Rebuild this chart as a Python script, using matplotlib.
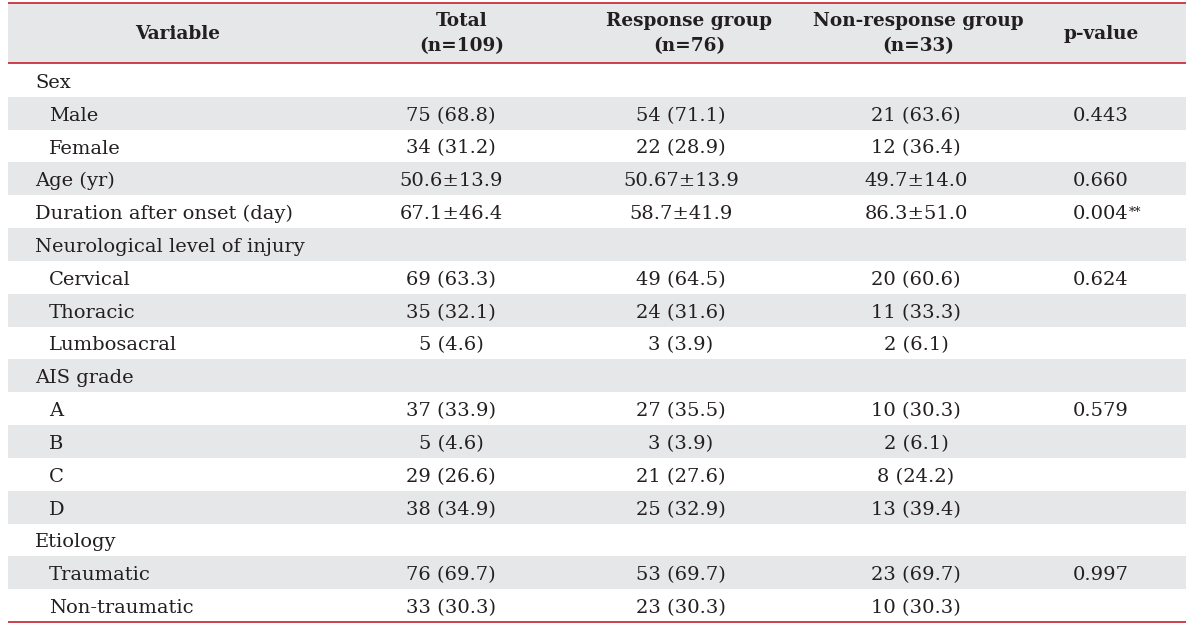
import matplotlib.pyplot as plt
from matplotlib.patches import Rectangle

# table content
headers = ["Variable", "Total\n(n=109)", "Response group\n(n=76)",
           "Non-response group\n(n=33)", "p-value"]

variables = ["Sex", "Male", "Female", "Age (yr)", "Duration after onset (day)",
             "Neurological level of injury", "Cervical", "Thoracic", "Lumbosacral",
             "AIS grade", "A", "B", "C", "D", "Etiology", "Traumatic", "Non-traumatic"]
indented = [False, True, True, False, False, False, True, True, True,
            False, True, True, True, True, False, True, True]

total = ["", "75 (68.8)", "34 (31.2)", "50.6\u00b113.9", "67.1\u00b146.4", "",
         "69 (63.3)", "35 (32.1)", "5 (4.6)", "", "37 (33.9)", "5 (4.6)",
         "29 (26.6)", "38 (34.9)", "", "76 (69.7)", "33 (30.3)"]
response = ["", "54 (71.1)", "22 (28.9)", "50.67\u00b113.9", "58.7\u00b141.9", "",
            "49 (64.5)", "24 (31.6)", "3 (3.9)", "", "27 (35.5)", "3 (3.9)",
            "21 (27.6)", "25 (32.9)", "", "53 (69.7)", "23 (30.3)"]
nonresponse = ["", "21 (63.6)", "12 (36.4)", "49.7\u00b114.0", "86.3\u00b151.0", "",
               "20 (60.6)", "11 (33.3)", "2 (6.1)", "", "10 (30.3)", "2 (6.1)",
               "8 (24.2)", "13 (39.4)", "", "23 (69.7)", "10 (30.3)"]
pvalue = ["", "0.443", "", "0.660", "0.004**", "", "0.624", "", "", "",
          "0.579", "", "", "", "", "0.997", ""]

# layout in pixels
W, H = 1200, 628
x0, x1 = 8, 1186
head_top, head_bot = 3, 63
row_h = (622 - 64) / len(variables)
head_x = [178, 462, 689, 918, 1101]
data_x = [451, 681, 916, 1101]
RED = "#c8323c"
GRAY = "#e6e7e9"
TXT = "#231f20"
FS = 14
FS_HEAD = 13.3

plt.rcParams['font.family'] = ['DejaVu Serif']

fig = plt.figure(figsize=(W / 100, H / 100), dpi=100)
ax = fig.add_axes([0, 0, 1, 1])
ax.set_xlim(0, W)
ax.set_ylim(H, 0)
ax.axis('off')

# header
ax.add_patch(Rectangle((x0, head_top), x1 - x0, head_bot - head_top,
                       color=GRAY, lw=0))
for x, h in zip(head_x, headers):
    ax.text(x, (head_top + head_bot) / 2 + 1, h, ha='center', va='center',
            fontsize=FS_HEAD, fontweight='bold', color=TXT, linespacing=1.5)

# body rows
cols = [total, response, nonresponse]
for i, var in enumerate(variables):
    top = 64 + i * row_h
    base = top + row_h / 2 + 7.5
    if i % 2 == 1:
        ax.add_patch(Rectangle((x0, top), x1 - x0, row_h, color=GRAY, lw=0))
    ax.text(49 if indented[i] else 35, base, var, ha='left', va='baseline',
            fontsize=FS, color=TXT)
    for x, col in zip(data_x, cols):
        ax.text(x, base, col[i], ha='center', va='baseline', fontsize=FS, color=TXT)
    p = pvalue[i]
    if p.endswith("**"):
        t = ax.text(data_x[3], base, p[:-2], ha='center', va='baseline',
                    fontsize=FS, color=TXT)
        ax.annotate("**", xy=(1, 0.95), xycoords=t, ha='left', va='top',
                    fontsize=FS * 0.65, color=TXT)
    elif p:
        ax.text(data_x[3], base, p, ha='center', va='baseline', fontsize=FS, color=TXT)

# rules
for y in (head_top, head_bot, 622):
    ax.plot([x0, x1], [y, y], color=RED, lw=1.3, solid_capstyle='butt')

fig.savefig("out.png", dpi=100)
